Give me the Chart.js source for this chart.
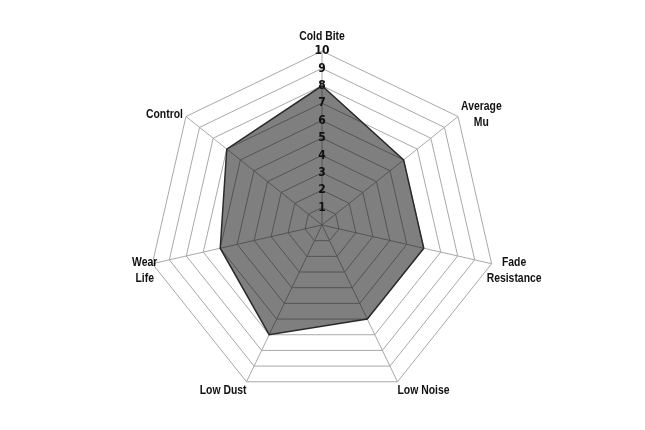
<!DOCTYPE html>
<html>
<head>
<meta charset="utf-8">
<script src="https://cdn.jsdelivr.net/npm/chart.js@4"></script>
<style>
html,body{margin:0;padding:0;background:#fff;}
#wrap{width:645px;height:430px;}
</style>
</head>
<body>
<div id="wrap"><canvas id="c" width="645" height="430"></canvas></div>
<script>
const categories = [["Cold Bite"], ["Average", "Mu"], ["Fade", "Resistance"], ["Low Noise"], ["Low Dust"], ["Wear", "Life"], ["Control"]];
const values = [8, 6, 6, 6, 7, 6, 7];
const tickMin = 0;
const tickMax = 10;
const tickStep = 1;

const FONT = "'Liberation Sans', Arial, sans-serif";
const SQUEEZE = 0.8;

const labelPlugin = {
  id: 'centeredPointLabels',
  afterDraw(chart) {
    const scale = chart.scales.r;
    const ctx = chart.ctx;
    ctx.save();
    ctx.font = "bold 13px " + FONT;
    ctx.fillStyle = '#111';
    ctx.textAlign = 'center';
    ctx.textBaseline = 'middle';
    const lh = 16;
    categories.forEach((lines, i) => {
      const p = scale.getPointPosition(i, scale.drawingArea);
      const ang = p.angle + Math.PI / 2; // 0 = top
      const s = Math.sin(ang), c = Math.cos(ang);
      const w = SQUEEZE * Math.max(...lines.map(l => ctx.measureText(l).width));
      const h = lines.length * lh;
      let cx = p.x, cy = p.y;
      if (Math.abs(s) < 0.1) {
        cx = p.x;
        cy = c > 0 ? p.y - 15 : p.y + 15;
      } else if (c > 0.3) {
        cx = p.x + Math.sign(s) * (w / 2 + 3);
        cy = p.y - 2;
      } else if (c > -0.5) {
        cx = p.x + Math.sign(s) * (w / 2 - 5);
        cy = p.y + 7;
      } else {
        cx = p.x + Math.sign(s) * (w / 2);
        cy = p.y + 9;
      }
      lines.forEach((l, k) => {
        ctx.save();
        ctx.translate(cx, cy - h / 2 + lh / 2 + k * lh);
        ctx.scale(SQUEEZE, 1);
        ctx.fillText(l, 0, 0);
        ctx.restore();
      });
    });
    ctx.restore();
  }
};

new Chart(document.getElementById('c'), {
  type: 'radar',
  data: {
    labels: categories,
    datasets: [{
      data: values,
      backgroundColor: 'rgba(0,0,0,0.5)',
      borderColor: '#2a2a2a',
      borderWidth: 1.5,
      pointRadius: 0,
      pointHoverRadius: 0,
      fill: true
    }]
  },
  options: {
    responsive: false,
    animation: false,
    devicePixelRatio: 1,
    layout: { padding: { top: 43, bottom: 22, left: 0, right: 0 } },
    plugins: { legend: { display: false }, tooltip: { enabled: false } },
    elements: { line: { tension: 0 } },
    scales: {
      r: {
        min: tickMin,
        max: tickMax,
        beginAtZero: true,
        grid: { color: '#a8a8a8', lineWidth: 1, circular: false },
        angleLines: { color: '#a8a8a8', lineWidth: 1 },
        pointLabels: { display: false },
        ticks: {
          stepSize: tickStep,
          showLabelBackdrop: false,
          color: '#111',
          font: { family: "'DejaVu Sans Condensed', sans-serif", weight: 'bold', size: 12 },
          z: 1
        }
      }
    }
  },
  plugins: [labelPlugin]
});
</script>
</body>
</html>
